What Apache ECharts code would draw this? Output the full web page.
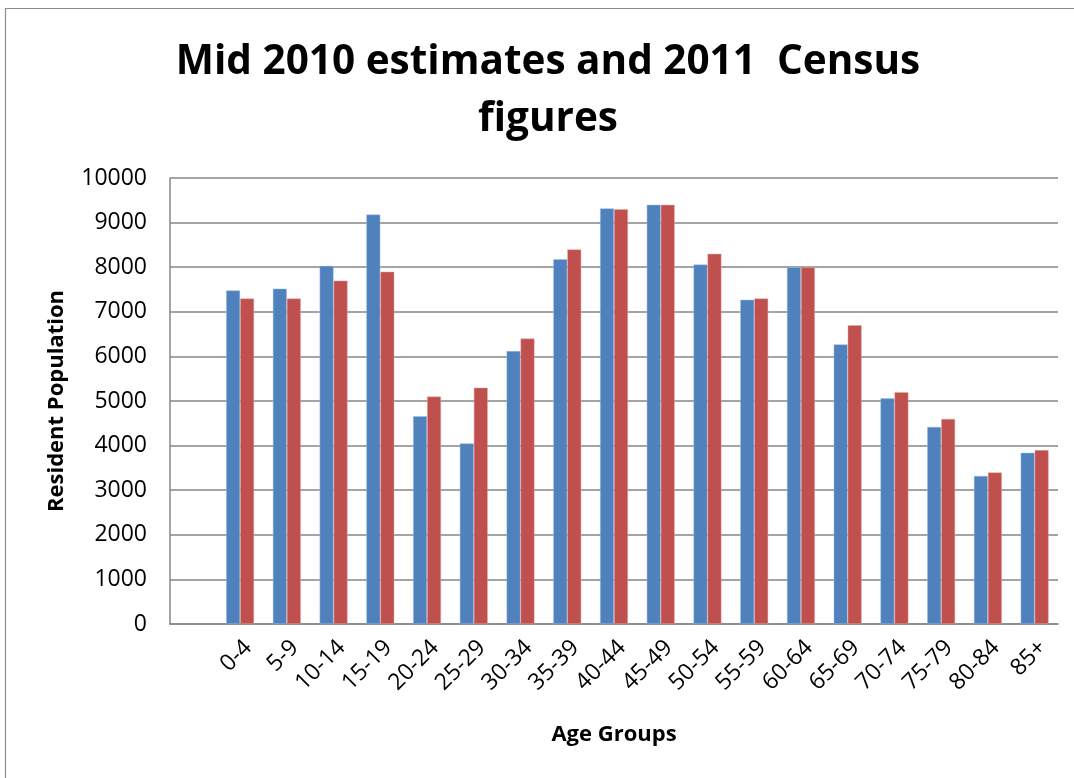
<!DOCTYPE html>
<html>
<head>
<meta charset="utf-8">
<script src="https://cdn.jsdelivr.net/npm/echarts@6/dist/echarts.min.js"></script>
<style>
html,body{margin:0;padding:0;background:#fff;}
#chart{width:1074px;height:778px;}
</style>
</head>
<body>
<div id="chart"></div>
<script>
const ageGroups = ['', '0-4', '5-9', '10-14', '15-19', '20-24', '25-29', '30-34', '35-39', '40-44', '45-49', '50-54', '55-59', '60-64', '65-69', '70-74', '75-79', '80-84', '85+'];
const mid2010 = [null, 7480, 7520, 8030, 9180, 4660, 4050, 6120, 8180, 9320, 9400, 8060, 7270, 8000, 6270, 5060, 4420, 3320, 3840];
const census2011 = [null, 7300, 7300, 7700, 7900, 5100, 5300, 6400, 8400, 9300, 9400, 8300, 7300, 8000, 6700, 5200, 4600, 3400, 3900];
const yTicks = {min: 0, max: 10000, interval: 1000};

const chart = echarts.init(document.getElementById('chart'));
const gridColor = '#868686';
chart.setOption({
  animation: false,
  backgroundColor: '#ffffff',
  title: {
    text: 'Mid 2010 estimates and 2011  Census\nfigures',
    left: 543,
    top: 29,
    textAlign: 'center',
    textStyle: {
      fontFamily: 'Open Sans',
      fontWeight: 'bold',
      fontSize: 40.5,
      lineHeight: 57,
      color: '#000'
    }
  },
  graphic: [
    {type: 'line', shape: {x1: 5.5, y1: 8, x2: 5.5, y2: 778}, style: {stroke: '#8c8c8c', lineWidth: 1.2}},
    {type: 'line', shape: {x1: 5, y1: 8.5, x2: 1074, y2: 8.5}, style: {stroke: '#8c8c8c', lineWidth: 1.2}}
  ],
  grid: {left: 170, top: 178, right: 16, bottom: 154, containLabel: false},
  xAxis: {
    type: 'category',
    data: ageGroups,
    name: 'Age Groups',
    nameLocation: 'middle',
    nameGap: 100,
    nameTextStyle: {fontFamily: 'Open Sans', fontWeight: 'bold', fontSize: 22, color: '#000'},
    axisLine: {lineStyle: {color: gridColor, width: 1.5}},
    axisTick: {show: false},
    axisLabel: {
      rotate: 45,
      interval: 0,
      margin: 12,
      align: 'right',
      verticalAlign: 'top',
      fontFamily: 'Open Sans',
      fontSize: 23,
      color: '#000'
    }
  },
  yAxis: {
    type: 'value',
    min: yTicks.min,
    max: yTicks.max,
    interval: yTicks.interval,
    name: 'Resident Population',
    nameLocation: 'middle',
    nameGap: 102,
    nameRotate: 90,
    nameTextStyle: {fontFamily: 'Open Sans', fontWeight: 'bold', fontSize: 22, color: '#000'},
    axisLine: {show: true, lineStyle: {color: gridColor, width: 1.5}},
    axisTick: {show: false},
    splitLine: {lineStyle: {color: gridColor, width: 1.5}},
    axisLabel: {
      margin: 23,
      formatter: function (v) { return String(v); },
      fontFamily: 'Open Sans',
      fontSize: 23,
      color: '#000'
    }
  },
  series: [
    {
      name: 'Mid 2010 estimates',
      type: 'bar',
      data: mid2010,
      barWidth: 14,
      barGap: '0%',
      itemStyle: {color: '#4F81BD', borderColor: 'rgba(160,190,230,0.8)', borderWidth: 0.6}
    },
    {
      name: '2011 Census',
      type: 'bar',
      data: census2011,
      barWidth: 14,
      barGap: '0%',
      itemStyle: {color: '#C0504D', borderColor: 'rgba(230,170,170,0.8)', borderWidth: 0.6}
    }
  ]
});
</script>
</body>
</html>
